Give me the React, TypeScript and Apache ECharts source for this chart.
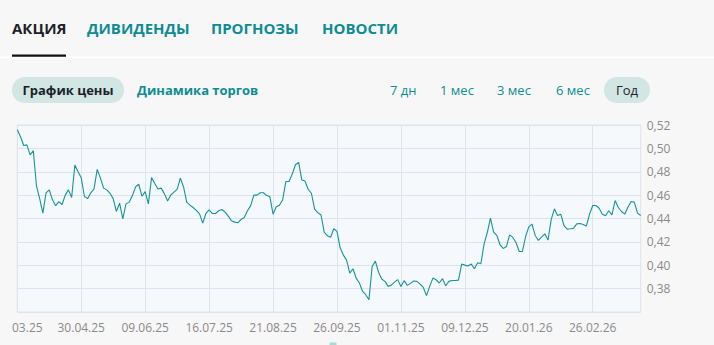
import React, { useEffect, useRef } from "react";
import * as echarts from "echarts";

// Tick labels shown on the x axis (one every 20 trading points)
const tickLabels = [
  "03.25", "30.04.25", "09.06.25", "16.07.25", "21.08.25",
  "26.09.25", "01.11.25", "09.12.25", "20.01.26", "26.02.26",
];
const tickStep = 20;

// Closing prices
const pricesA = [
  0.516, 0.510, 0.5025, 0.503, 0.4945, 0.498, 0.468, 0.457, 0.4446, 0.462,
  0.4645, 0.456, 0.451, 0.4545, 0.452, 0.460, 0.4645, 0.458, 0.4858, 0.480,
  0.4748, 0.4588, 0.457, 0.462, 0.4653, 0.482, 0.4745, 0.466, 0.4645, 0.4616,
  0.457, 0.446, 0.4531, 0.4397, 0.4525, 0.454, 0.4596, 0.467, 0.4693, 0.459,
  0.463, 0.4525, 0.475, 0.470, 0.4653, 0.466, 0.4613, 0.455, 0.460,
];
const pricesB = [
  0.4625, 0.465, 0.4745, 0.467, 0.454, 0.4514, 0.4494, 0.447, 0.444, 0.436,
  0.4443, 0.4474, 0.4443, 0.4443, 0.4466, 0.4477, 0.4454, 0.442, 0.438, 0.4369,
  0.4363, 0.4392, 0.4409, 0.4466, 0.451, 0.460, 0.460, 0.462, 0.462, 0.4596,
  0.4588, 0.4437, 0.450, 0.4514, 0.456, 0.4716, 0.4716, 0.478, 0.486, 0.488,
  0.473, 0.472, 0.4648, 0.4616, 0.448, 0.445, 0.443, 0.4283, 0.4252,
];
const pricesC = [
  0.424, 0.4312, 0.429, 0.4147, 0.4087, 0.4044, 0.3933, 0.397, 0.389, 0.3848,
  0.3777, 0.3748, 0.3705, 0.399, 0.4035, 0.394, 0.3882, 0.3862, 0.3819, 0.383,
  0.3856, 0.3877, 0.3819, 0.3868, 0.3828, 0.3845, 0.3865, 0.3862, 0.3839, 0.381,
  0.374, 0.3819, 0.389, 0.3876, 0.3848, 0.3885, 0.3825, 0.3862, 0.387, 0.387,
  0.3873, 0.401, 0.4001, 0.3993, 0.401, 0.397, 0.4021, 0.4013, 0.418,
];
const pricesD = [
  0.4278, 0.4403, 0.4283, 0.4255, 0.4175, 0.4144, 0.416, 0.426, 0.4238, 0.4195,
  0.4118, 0.4118, 0.4246, 0.4329, 0.4352, 0.4255, 0.4212, 0.424, 0.4269, 0.4215,
  0.439, 0.4483, 0.4426, 0.4437, 0.434, 0.4309, 0.4312, 0.4317, 0.4354, 0.4357,
  0.4349, 0.4335, 0.4437, 0.4511, 0.4511, 0.4488, 0.4437, 0.4423, 0.4466, 0.4431,
  0.4554, 0.4494, 0.446, 0.4437, 0.4497, 0.4545, 0.454, 0.4446, 0.4426,
];

const tabs = ["АКЦИЯ", "ДИВИДЕНДЫ", "ПРОГНОЗЫ", "НОВОСТИ"];
const chartModes = ["График цены", "Динамика торгов"];
const periods = ["7 дн", "1 мес", "3 мес", "6 мес", "Год"];

const FONT = "'Open Sans', 'Noto Sans', sans-serif";
const TEAL = "#0f8c93";
const DARK = "#1c1f2b";

export default function App() {
  const ref = useRef<HTMLDivElement>(null);

  useEffect(() => {
    if (!ref.current) return;
    const chart = echarts.init(ref.current, null, { renderer: "svg" });
    const prices = [...pricesA, ...pricesB, ...pricesC, ...pricesD];
    const categories = prices.map((_, i) =>
      i % tickStep === 0 && tickLabels[i / tickStep] ? tickLabels[i / tickStep] : ""
    );
    const showTick = (idx: number) => idx % tickStep === 0;

    const tabX = [12, 87, 211, 322];
    const periodX = [390, 440, 497, 556];

    const graphics: any[] = [
      { type: "rect", shape: { x: 0, y: 56.5, width: 714, height: 1.5 }, style: { fill: "#ffffff" } },
      { type: "rect", shape: { x: 12, y: 54.5, width: 54, height: 2.2 }, style: { fill: "#111111" } },
      ...tabs.map((t, i) => ({
        type: "text",
        x: tabX[i],
        y: 28,
        style: {
          text: t,
          fill: i === 0 ? DARK : TEAL,
          font: `700 15px ${FONT}`,
          textVerticalAlign: "middle",
        },
      })),
      { type: "rect", shape: { x: 12, y: 77, width: 112, height: 26, r: 13 }, style: { fill: "#d2e6e4" } },
      {
        type: "text", x: 68, y: 90,
        style: { text: chartModes[0], fill: DARK, font: `700 13px ${FONT}`, textAlign: "center", textVerticalAlign: "middle" },
      },
      {
        type: "text", x: 137, y: 90,
        style: { text: chartModes[1], fill: TEAL, font: `700 13px ${FONT}`, textVerticalAlign: "middle" },
      },
      ...periods.slice(0, 4).map((p, i) => ({
        type: "text", x: periodX[i], y: 90,
        style: { text: p, fill: TEAL, font: `400 13px ${FONT}`, textVerticalAlign: "middle" },
      })),
      { type: "rect", shape: { x: 604, y: 77, width: 46, height: 26, r: 13 }, style: { fill: "#d2e6e4" } },
      {
        type: "text", x: 627, y: 90,
        style: { text: periods[4], fill: DARK, font: `400 13px ${FONT}`, textAlign: "center", textVerticalAlign: "middle" },
      },
      { type: "rect", shape: { x: 329.5, y: 342.5, width: 7, height: 3 }, style: { fill: "#a9dad9" } },
    ];

    chart.setOption({
      animation: false,
      backgroundColor: "#f7f7f7",
      grid: {
        left: 17.3,
        right: 73.3,
        top: 125,
        bottom: 33,
        containLabel: false,
        outerBoundsMode: "none",
        show: true,
        backgroundColor: "#f5f9fb",
        borderColor: "#dde4ee",
        borderWidth: 1,
      },
      xAxis: {
        type: "category",
        data: categories,
        boundaryGap: false,
        axisLine: { show: false },
        axisTick: { show: false },
        axisLabel: {
          interval: showTick,
          color: "#8a8a8a",
          fontSize: 12,
          fontFamily: FONT,
          margin: 9,
          alignMinLabel: "center",
          alignMaxLabel: "center",
          hideOverlap: false,
          formatter: (v: string, idx: number) => (idx === 0 ? `{first|${v}}` : v),
          rich: {
            first: {
              color: "#8a8a8a",
              fontSize: 12,
              fontFamily: FONT,
              padding: [0, 0, 0, 20],
            },
          },
        },
        splitLine: { show: true, interval: showTick, lineStyle: { color: "#dde4ee", width: 1 } },
      },
      yAxis: {
        type: "value",
        position: "right",
        min: 0.36,
        max: 0.52,
        interval: 0.02,
        axisLine: { show: false },
        axisTick: { show: false },
        axisLabel: {
          showMinLabel: false,
          color: "#8a8a8a",
          fontSize: 12,
          fontFamily: FONT,
          margin: 6,
          formatter: (v: number) => v.toFixed(2).replace(".", ","),
        },
        splitLine: { show: true, lineStyle: { color: "#dde4ee", width: 1 } },
      },
      series: [
        {
          type: "line",
          data: prices,
          showSymbol: false,
          symbol: "none",
          lineStyle: { color: "#16939a", width: 1.1 },
        },
      ],
      graphic: graphics,
    });
    return () => chart.dispose();
  }, []);

  return (
    <div style={{ position: "absolute", left: 0, top: 0, width: 714, height: 345, background: "#f7f7f7", overflow: "hidden" }}>
      <div ref={ref} style={{ position: "absolute", left: 0, top: 0, width: 714, height: 345 }} />
    </div>
  );
}
